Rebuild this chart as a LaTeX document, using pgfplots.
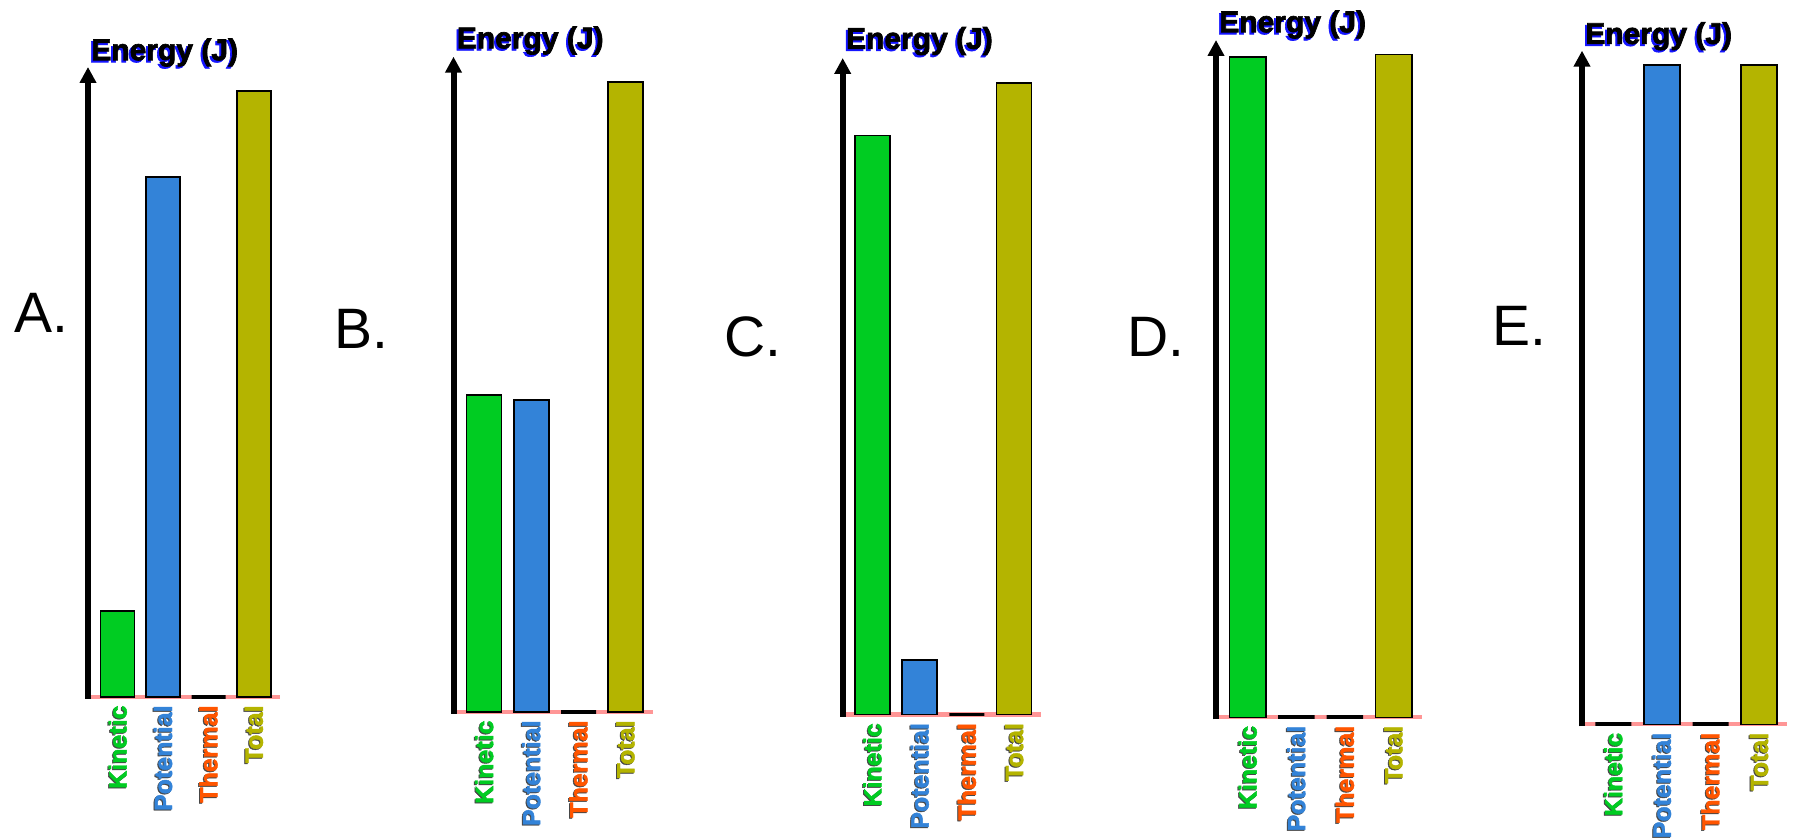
\documentclass[border=0pt]{standalone}
\usepackage{fontspec}
\setmainfont{Liberation Sans}
\newfontface\heavyface[FakeBold=1.6]{Liberation Sans Bold}
\newfontface\heavierface[FakeBold=2.2]{Liberation Sans Bold}
\usepackage{pgfplots}
\pgfplotsset{compat=1.18}
\usetikzlibrary{arrows.meta}
\definecolor{kin}{RGB}{0,204,34}
\definecolor{pot}{RGB}{51,131,216}
\definecolor{tot}{RGB}{180,180,0}
\definecolor{thm}{RGB}{255,85,0}
\definecolor{pinkline}{RGB}{255,150,150}
\definecolor{enshadow}{RGB}{20,20,255}
\definecolor{lblshadow}{RGB}{70,70,70}
\newcommand{\lblfont}{\heavyface\fontsize{12.5pt}{14pt}\selectfont}
\newcommand{\enfont}{\heavierface\fontsize{15pt}{17pt}\selectfont}
\newcommand{\letfont}{\fontsize{28.5pt}{32pt}\selectfont}
\newcommand{\tlab}[3]{%
  \node[rotate=90, anchor=east, inner sep=0pt, text=lblshadow, font=\lblfont] at ([xshift=-0.5pt,yshift=-4.5pt]axis cs:#1,0) {#3};
  \node[rotate=90, anchor=east, inner sep=0pt, text=#2, font=\lblfont] at ([yshift=-4pt]axis cs:#1,0) {#3};}
\newcommand{\decor}[4]{% #1 label yshift, #2 letter xshift, #3 letter yshift, #4 letter
  \draw[pinkline, line width=2.2pt] (rel axis cs:0,0) -- (rel axis cs:1,0);
  \draw[line width=3pt, -{Triangle[width=8pt,length=8pt]}] ([yshift=-1pt]rel axis cs:0,0) -- (rel axis cs:0,1);
  \node[anchor=base west, inner sep=0pt, text=enshadow, font=\enfont] at ([xshift=0.5pt,yshift=#1-1pt]rel axis cs:0,1) {Energy (J)};
  \node[anchor=base west, inner sep=0pt, text=black, font=\enfont] at ([xshift=1.5pt,yshift=#1]rel axis cs:0,1) {Energy (J)};
  \node[anchor=base west, inner sep=0pt, font=\letfont] at ([xshift=#2,yshift=#3]rel axis cs:0,0) {#4};}
\pgfplotsset{
  ebar/.style={scale only axis, hide axis, clip=false, anchor=south west, xmin=0, ymin=0},
  bstyle/.style={ybar, bar shift=0pt, draw=black, line width=0.75pt},
  zbar/.style={ybar, bar shift=0pt, draw=black, fill=white, line width=1.8pt},
}
\begin{document}
\begin{tikzpicture}
% Panel A
\begin{axis}[ebar, at={(44pt,71.5pt)}, width=96pt, height=315pt, xmax=192, ymax=104.0, bar width=34]
\decor{3.4pt}{-37pt}{182pt}{A.}
\addplot[bstyle, fill=kin] coordinates {(29.7,14.2)};
\addplot[bstyle, fill=pot] coordinates {(75.1,85.8)};
\addplot[zbar] coordinates {(120.5,0)};
\addplot[bstyle, fill=tot] coordinates {(165.9,100)};
\tlab{29.7}{kin}{Kinetic}
\tlab{75.1}{pot}{Potential}
\tlab{120.5}{thm}{Thermal}
\tlab{165.9}{tot}{Total}
\end{axis}
% Panel B
\begin{axis}[ebar, at={(226.75pt,64pt)}, width=99.6pt, height=327.65pt, xmax=199.2, ymax=104.0, bar width=35]
\decor{4.2pt}{-59.75pt}{181.5pt}{B.}
\addplot[bstyle, fill=kin] coordinates {(30.7,50.3)};
\addplot[bstyle, fill=pot] coordinates {(77.8,49.5)};
\addplot[zbar] coordinates {(125,0)};
\addplot[bstyle, fill=tot] coordinates {(172,100)};
\tlab{30.7}{kin}{Kinetic}
\tlab{77.8}{pot}{Potential}
\tlab{125}{thm}{Thermal}
\tlab{172}{tot}{Total}
\end{axis}
% Panel C
\begin{axis}[ebar, at={(421.35pt,62.65pt)}, width=98.95pt, height=328.35pt, xmax=197.9, ymax=104.0, bar width=35]
\decor{4.6pt}{-59.35pt}{178.85pt}{C.}
\addplot[bstyle, fill=kin] coordinates {(29.8,91.7)};
\addplot[bstyle, fill=pot] coordinates {(77,8.7)};
\addplot[zbar] coordinates {(124.2,0)};
\addplot[bstyle, fill=tot] coordinates {(171.5,100)};
\tlab{29.8}{kin}{Kinetic}
\tlab{77}{pot}{Potential}
\tlab{124.2}{thm}{Thermal}
\tlab{171.5}{tot}{Total}
\end{axis}
% Panel D
\begin{axis}[ebar, at={(608pt,61.35pt)}, width=102.85pt, height=338.65pt, xmax=205.7, ymax=102.2, bar width=36.5]
\decor{3.9pt}{-44.65pt}{180.3pt}{D.}
\addplot[bstyle, fill=kin] coordinates {(31.7,99.6)};
\addplot[zbar] coordinates {(80.3,0)};
\addplot[zbar] coordinates {(128.9,0)};
\addplot[bstyle, fill=tot] coordinates {(177.5,100)};
\tlab{31.7}{kin}{Kinetic}
\tlab{80.3}{pot}{Potential}
\tlab{128.9}{thm}{Thermal}
\tlab{177.5}{tot}{Total}
\end{axis}
% Panel E
\begin{axis}[ebar, at={(791pt,57.85pt)}, width=102.35pt, height=336.8pt, xmax=204.7, ymax=102.2, bar width=36]
\decor{3.4pt}{-45pt}{189.15pt}{E.}
\addplot[zbar] coordinates {(31.3,0)};
\addplot[bstyle, fill=pot] coordinates {(79.9,100)};
\addplot[zbar] coordinates {(128.5,0)};
\addplot[bstyle, fill=tot] coordinates {(177.1,100)};
\tlab{31.3}{kin}{Kinetic}
\tlab{79.9}{pot}{Potential}
\tlab{128.5}{thm}{Thermal}
\tlab{177.1}{tot}{Total}
\end{axis}
\pgfresetboundingbox
\path[use as bounding box] (0,0) rectangle (896.5pt,420pt);
\end{tikzpicture}
\end{document}
